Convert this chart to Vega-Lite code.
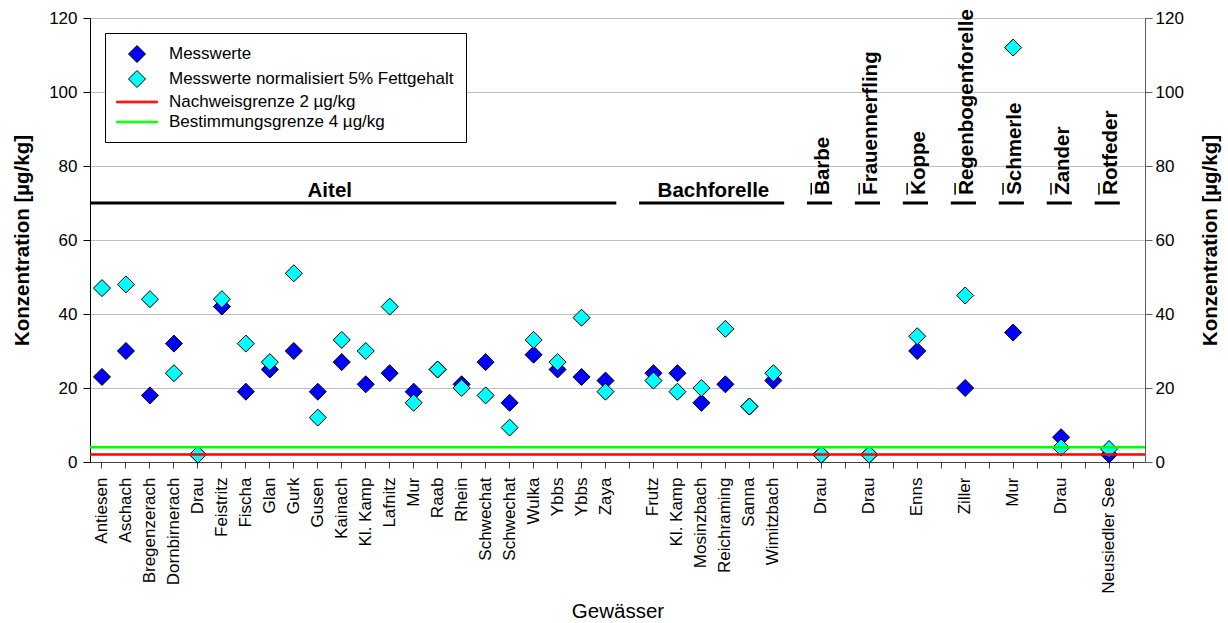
{
  "$schema": "https://vega.github.io/schema/vega-lite/v6.json",
  "autosize": {"type": "none"},
  "padding": {"left": 90, "top": 18, "right": 83, "bottom": 161},
  "width": 1055,
  "height": 444,
  "config": {
    "font": "Liberation Sans",
    "view": {"stroke": "#000000", "strokeWidth": 1},
    "axis": {"labelColor": "#000000", "titleColor": "#000000", "labelFont": "Liberation Sans", "titleFont": "Liberation Sans"},
    "legend": {
      "orient": "top-left", "offset": 15, "padding": 12,
      "fillColor": "#FFFFFF", "strokeColor": "#000000",
      "labelFontSize": 17, "labelLimit": 500, "labelColor": "#000000", "labelFont": "Liberation Sans",
      "symbolSize": 289, "symbolOffset": 11, "labelOffset": 23, "rowPadding": 3, "symbolOpacity": 1, "symbolStrokeWidth": 1
    }
  },
  "resolve": {"axis": {"y": "independent"}},
  "layer": [
    {
      "data": {"values": [
        {"key": "a00|Antiesen", "m": 23, "n": 47},
        {"key": "a01|Aschach", "m": 30, "n": 48},
        {"key": "a02|Bregenzerach", "m": 18, "n": 44},
        {"key": "a03|Dornbirnerach", "m": 32, "n": 24},
        {"key": "a04|Drau", "m": 2, "n": 2},
        {"key": "a05|Feistritz", "m": 42, "n": 44},
        {"key": "a06|Fischa", "m": 19, "n": 32},
        {"key": "a07|Glan", "m": 25, "n": 27},
        {"key": "a08|Gurk", "m": 30, "n": 51},
        {"key": "a09|Gusen", "m": 19, "n": 12},
        {"key": "a10|Kainach", "m": 27, "n": 33},
        {"key": "a11|Kl. Kamp", "m": 21, "n": 30},
        {"key": "a12|Lafnitz", "m": 24, "n": 42},
        {"key": "a13|Mur", "m": 19, "n": 16},
        {"key": "a14|Raab", "m": 25, "n": 25},
        {"key": "a15|Rhein", "m": 21, "n": 20},
        {"key": "a16|Schwechat", "m": 27, "n": 18},
        {"key": "a17|Schwechat", "m": 16, "n": 9.3},
        {"key": "a18|Wulka", "m": 29, "n": 33},
        {"key": "a19|Ybbs", "m": 25, "n": 27},
        {"key": "a20|Ybbs", "m": 23, "n": 39},
        {"key": "a21|Zaya", "m": 22, "n": 19},
        {"key": "b23|Frutz", "m": 24, "n": 22},
        {"key": "b24|Kl. Kamp", "m": 24, "n": 19},
        {"key": "b25|Mosinzbach", "m": 16, "n": 20},
        {"key": "b26|Reichraming", "m": 21, "n": 36},
        {"key": "b27|Sanna", "m": 15, "n": 15},
        {"key": "b28|Wimitzbach", "m": 22, "n": 24},
        {"key": "c30|Drau", "m": 2, "n": 2},
        {"key": "d32|Drau", "m": 2, "n": 2},
        {"key": "e34|Enns", "m": 30, "n": 34},
        {"key": "f36|Ziller", "m": 20, "n": 45},
        {"key": "h38|Mur", "m": 35, "n": 112},
        {"key": "i40|Drau", "m": 6.7, "n": 3.9},
        {"key": "j42|Neusiedler See", "m": 2, "n": 3.5}
      ]},
      "transform": [{"fold": ["m", "n"], "as": ["series", "value"]}],
      "mark": {"type": "point", "filled": true, "opacity": 1, "size": 289, "strokeWidth": 1},
      "encoding": {
        "x": {
          "field": "key", "type": "nominal", "sort": null, "title": "Gewässer",
          "scale": {"type": "band", "paddingInner": 0, "paddingOuter": 0, "domain": ["a00|Antiesen","a01|Aschach","a02|Bregenzerach","a03|Dornbirnerach","a04|Drau","a05|Feistritz","a06|Fischa","a07|Glan","a08|Gurk","a09|Gusen","a10|Kainach","a11|Kl. Kamp","a12|Lafnitz","a13|Mur","a14|Raab","a15|Rhein","a16|Schwechat","a17|Schwechat","a18|Wulka","a19|Ybbs","a20|Ybbs","a21|Zaya","g22|","b23|Frutz","b24|Kl. Kamp","b25|Mosinzbach","b26|Reichraming","b27|Sanna","b28|Wimitzbach","g29|","c30|Drau","g31|","d32|Drau","g33|","e34|Enns","g35|","f36|Ziller","g37|","h38|Mur","g39|","i40|Drau","g41|","j42|Neusiedler See","g43|"]},
          "axis": {
            "labelExpr": "split(datum.value, '|')[1]",
            "labelAngle": 270, "labelAlign": "right", "labelBaseline": "middle",
            "labelFontSize": 17, "labelPadding": 9, "tickSize": 6, "tickColor": "#404040",
            "domainColor": "#404040", "labelOverlap": false, "labelLimit": 300,
            "titleFontSize": 20.5, "titleFontWeight": "normal", "titlePadding": 8
          }
        },
        "y": {
          "field": "value", "type": "quantitative",
          "scale": {"domain": [0, 120], "nice": false, "zero": true},
          "axis": {
            "orient": "left", "values": [0, 20, 40, 60, 80, 100, 120],
            "title": "Konzentration [µg/kg]", "titleFontSize": 20.5, "titleFontWeight": "bold", "titlePadding": 16,
            "labelFontSize": 17, "labelPadding": 6, "tickSize": 7, "tickColor": "#000000", "domainColor": "#000000",
            "grid": true, "gridColor": "#BFBFBF", "gridWidth": 1
          }
        },
        "color": {
          "field": "series", "type": "nominal",
          "scale": {"domain": ["m", "n", "nw", "bg"], "range": ["#0000FF", "#00FFFF", "#FF0000", "#00FF00"]},
          "legend": {
            "title": null,
            "labelExpr": "datum.value == 'm' ? 'Messwerte' : datum.value == 'n' ? 'Messwerte normalisiert 5% Fettgehalt' : datum.value == 'nw' ? 'Nachweisgrenze 2 µg/kg' : 'Bestimmungsgrenze 4 µg/kg'"
          }
        },
        "shape": {
          "field": "series", "type": "nominal",
          "scale": {"domain": ["m", "n", "nw", "bg"], "range": ["diamond", "diamond", "M-2.4,-0.1L2.4,-0.1L2.4,0.1L-2.4,0.1Z", "M-2.4,-0.1L2.4,-0.1L2.4,0.1L-2.4,0.1Z"]},
          "legend": {"title": null}
        },
        "stroke": {
          "field": "series", "type": "nominal",
          "scale": {"domain": ["m", "n", "nw", "bg"], "range": ["#000000", "#000000", "#FF0000", "#00FF00"]},
          "legend": {"title": null}
        }
      }
    },
    {
      "data": {"values": [
        {"series": "nw", "value": 2},
        {"series": "bg", "value": 4}
      ]},
      "mark": {"type": "rule", "strokeWidth": 2.5},
      "encoding": {
        "y": {
          "field": "value", "type": "quantitative",
          "scale": {"domain": [0, 120], "nice": false, "zero": true},
          "axis": {
            "orient": "right", "values": [0, 20, 40, 60, 80, 100, 120],
            "title": "Konzentration [µg/kg]", "titleFontSize": 20.5, "titleFontWeight": "bold", "titlePadding": 17,
            "titleAngle": 270, "titleBaseline": "top",
            "labelFontSize": 17, "labelPadding": 3, "tickSize": 7, "tickColor": "#606060", "domainColor": "#606060",
            "grid": false
          }
        },
        "stroke": {
          "field": "series", "type": "nominal",
          "scale": {"domain": ["m", "n", "nw", "bg"], "range": ["#000000", "#000000", "#FF0000", "#00FF00"]},
          "legend": {"title": null}
        }
      }
    },
    {
      "data": {"values": [
        {"g": "Aitel", "first": "a00|Antiesen", "last": "a21|Zaya", "lab": "a09|Gusen", "rot": false},
        {"g": "Bachforelle", "first": "b23|Frutz", "last": "b28|Wimitzbach", "lab": "b25|Mosinzbach", "rot": false},
        {"g": "Barbe", "first": "c30|Drau", "last": "c30|Drau", "lab": "c30|Drau", "rot": true},
        {"g": "Frauennerfling", "first": "d32|Drau", "last": "d32|Drau", "lab": "d32|Drau", "rot": true},
        {"g": "Koppe", "first": "e34|Enns", "last": "e34|Enns", "lab": "e34|Enns", "rot": true},
        {"g": "Regenbogenforelle", "first": "f36|Ziller", "last": "f36|Ziller", "lab": "f36|Ziller", "rot": true},
        {"g": "Schmerle", "first": "h38|Mur", "last": "h38|Mur", "lab": "h38|Mur", "rot": true},
        {"g": "Zander", "first": "i40|Drau", "last": "i40|Drau", "lab": "i40|Drau", "rot": true},
        {"g": "Rotfeder", "first": "j42|Neusiedler See", "last": "j42|Neusiedler See", "lab": "j42|Neusiedler See", "rot": true}
      ]},
      "layer": [
        {
          "mark": {"type": "rule", "color": "#000000", "strokeWidth": 3, "clip": true},
          "encoding": {
            "x": {"field": "first", "type": "nominal", "bandPosition": -0.1, "title": "Gewässer",
              "scale": {"type": "band", "paddingInner": 0, "paddingOuter": 0, "domain": ["a00|Antiesen","a01|Aschach","a02|Bregenzerach","a03|Dornbirnerach","a04|Drau","a05|Feistritz","a06|Fischa","a07|Glan","a08|Gurk","a09|Gusen","a10|Kainach","a11|Kl. Kamp","a12|Lafnitz","a13|Mur","a14|Raab","a15|Rhein","a16|Schwechat","a17|Schwechat","a18|Wulka","a19|Ybbs","a20|Ybbs","a21|Zaya","g22|","b23|Frutz","b24|Kl. Kamp","b25|Mosinzbach","b26|Reichraming","b27|Sanna","b28|Wimitzbach","g29|","c30|Drau","g31|","d32|Drau","g33|","e34|Enns","g35|","f36|Ziller","g37|","h38|Mur","g39|","i40|Drau","g41|","j42|Neusiedler See","g43|"]}},
            "x2": {"field": "last", "bandPosition": 0.95},
            "y": {"datum": 70, "axis": null}
          }
        },
        {
          "transform": [{"filter": "datum.rot"}],
          "mark": {"type": "rule", "color": "#000000", "strokeWidth": 1.5},
          "encoding": {
            "x": {"field": "first", "type": "nominal", "bandPosition": 0.08, "title": "Gewässer"},
            "y": {"datum": 72.2, "axis": null},
            "y2": {"datum": 75.4}
          }
        },
        {
          "transform": [{"filter": "!datum.rot"}],
          "mark": {"type": "text", "fontSize": 20.5, "fontWeight": "bold", "align": "center", "baseline": "alphabetic", "color": "#000000"},
          "encoding": {
            "x": {"field": "lab", "type": "nominal", "bandPosition": 1, "title": "Gewässer"},
            "y": {"datum": 71.6, "axis": null},
            "text": {"field": "g"}
          }
        },
        {
          "transform": [{"filter": "datum.rot"}],
          "mark": {"type": "text", "fontSize": 20.5, "fontWeight": "bold", "align": "left", "baseline": "middle", "angle": 270, "color": "#000000"},
          "encoding": {
            "x": {"field": "lab", "type": "nominal", "bandPosition": 0.58, "title": "Gewässer"},
            "y": {"datum": 72.2, "axis": null},
            "text": {"field": "g"}
          }
        }
      ]
    }
  ]
}
